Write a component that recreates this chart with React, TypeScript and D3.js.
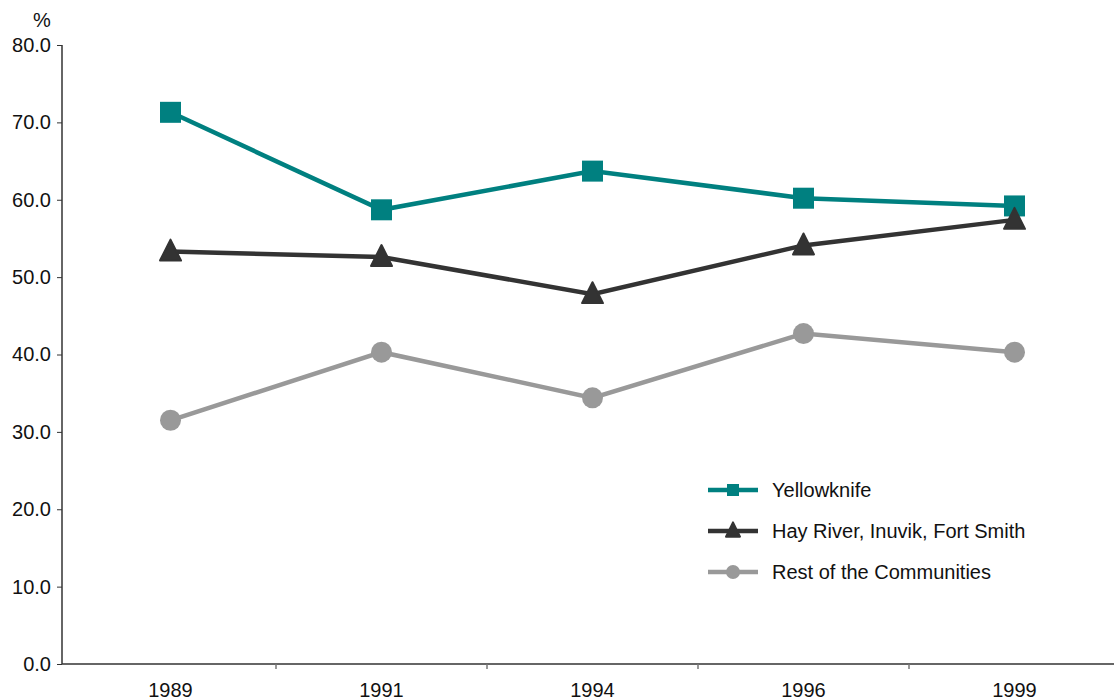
import * as d3 from "d3";
import { useEffect, useRef } from "react";

const years = ["1989", "1991", "1994", "1996", "1999"];
const yellowknife = [71.3, 58.7, 63.7, 60.2, 59.2];
const hayRiver = [53.3, 52.6, 47.8, 54.1, 57.4];
const restOfCommunities = [31.5, 40.3, 34.4, 42.7, 40.3];
const yTicks = [0, 10, 20, 30, 40, 50, 60, 70, 80];

const series = [
  { name: "Yellowknife", values: yellowknife, color: "#008080", marker: "square" },
  { name: "Hay River, Inuvik, Fort Smith", values: hayRiver, color: "#333333", marker: "triangle" },
  { name: "Rest of the Communities", values: restOfCommunities, color: "#999999", marker: "circle" },
];

export default function App() {
  const svgRef = useRef<SVGSVGElement | null>(null);

  useEffect(() => {
    if (!svgRef.current) return;
    const width = 1114;
    const height = 700;
    const svg = d3.select(svgRef.current);
    svg.selectAll("*").remove();
    svg.attr("width", width).attr("height", height);

    const font = "'Liberation Sans', Arial, sans-serif";
    const fs = 20;

    const x = d3.scaleBand().domain(years).range([65, 1120]);
    const y = d3.scaleLinear().domain([0, 80]).range([664, 45]);

    // y axis
    const yAxis = svg.append("g").attr("transform", "translate(62,0)")
      .call(d3.axisLeft(y).tickValues(yTicks).tickFormat((d) => d3.format(".1f")(d as number)).tickSize(5).tickPadding(6));
    yAxis.select(".domain").attr("stroke", "#333").attr("stroke-width", 1.5).attr("d", `M0,${y(0)}V${y(80)}`);
    yAxis.selectAll(".tick line").attr("stroke", "#333");
    yAxis.selectAll("text").attr("font-family", font).attr("font-size", fs).attr("fill", "#111");

    svg.append("text").attr("x", 42).attr("y", 27).attr("text-anchor", "middle")
      .attr("font-family", font).attr("font-size", fs).attr("fill", "#111").text("%");

    // x axis
    const xAxis = svg.append("g").attr("transform", `translate(0,${y(0)})`);
    xAxis.append("line").attr("x1", 62).attr("x2", width).attr("stroke", "#333").attr("stroke-width", 1.5);
    years.slice(1).forEach((yr) => {
      xAxis.append("line").attr("x1", x(yr)!).attr("x2", x(yr)!).attr("y1", 0).attr("y2", 5).attr("stroke", "#777").attr("stroke-width", 1.5);
    });
    years.forEach((yr) => {
      xAxis.append("text").attr("x", x(yr)! + x.bandwidth() / 2).attr("y", 33).attr("text-anchor", "middle")
        .attr("font-family", font).attr("font-size", fs).attr("fill", "#111").text(yr);
    });

    const drawMarker = (g: d3.Selection<SVGGElement, unknown, null, undefined>, type: string, cx: number, cy: number, color: string, s: number) => {
      if (type === "square") {
        g.append("rect").attr("x", cx - s / 2).attr("y", cy - s / 2).attr("width", s).attr("height", s).attr("fill", color);
      } else if (type === "triangle") {
        const h = s * 0.95;
        g.append("path").attr("d", `M${cx},${cy - h / 2 - 2}L${cx + s / 2},${cy + h / 2 - 1}L${cx - s / 2},${cy + h / 2 - 1}Z`)
          .attr("fill", color).attr("stroke", color).attr("stroke-linejoin", "round").attr("stroke-width", 2);
      } else {
        g.append("circle").attr("cx", cx).attr("cy", cy).attr("r", s / 2).attr("fill", color);
      }
    };

    const line = d3.line<number>().x((_, i) => x(years[i])! + x.bandwidth() / 2).y((d) => y(d));

    series.forEach((s) => {
      const g = svg.append("g");
      g.append("path").datum(s.values).attr("d", line).attr("fill", "none").attr("stroke", s.color).attr("stroke-width", 4.5);
      s.values.forEach((v, i) => drawMarker(g, s.marker, x(years[i])! + x.bandwidth() / 2, y(v), s.color, 21));
    });

    // legend
    const legend = svg.append("g").attr("transform", "translate(708,490)");
    series.forEach((s, i) => {
      const ly = i * 41;
      const g = legend.append("g");
      g.append("line").attr("x1", 0).attr("x2", 50).attr("y1", ly).attr("y2", ly).attr("stroke", s.color).attr("stroke-width", 4.5);
      drawMarker(g, s.marker, 25, ly, s.color, s.marker === "square" ? 12 : 14);
      g.append("text").attr("x", 64).attr("y", ly + 7).attr("font-family", font).attr("font-size", fs).attr("fill", "#111").text(s.name);
    });
  }, []);

  return (
    <div style={{ position: "absolute", left: 0, top: 0 }}>
      <svg ref={svgRef} style={{ display: "block" }}></svg>
    </div>
  );
}
